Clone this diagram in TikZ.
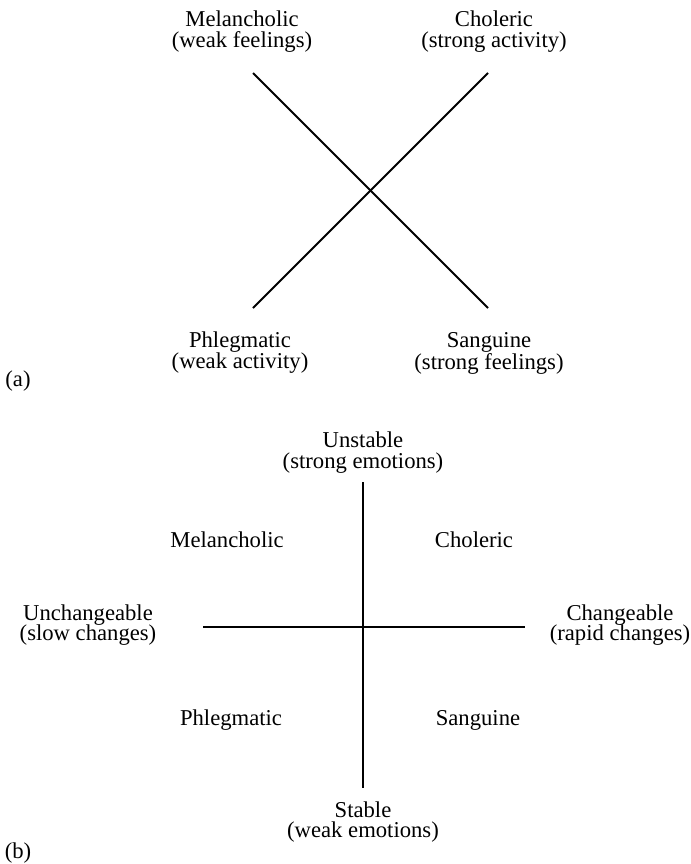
\documentclass[tikz,border=0pt]{standalone}
\usepackage{fontspec}
\setmainfont{Liberation Serif}
\begin{document}
\begin{tikzpicture}[x=0.75pt,y=-0.75pt,
  lbl/.style={font=\fontsize{17}{15.6}\selectfont, align=center, inner sep=0pt, anchor=north},
  one/.style={font=\fontsize{17}{15.6}\selectfont, inner sep=0pt, anchor=base},
  axis/.style={line width=1.4pt, line cap=butt}]
\path[use as bounding box] (0,0) rectangle (691,864);
% (a)
\node[lbl] (melA) at (242,11) {Melancholic\\(weak feelings)};
\node[lbl] (choA) at (494,11) {Choleric\\(strong activity)};
\node[lbl] (phlA) at (240,332) {Phlegmatic\\(weak activity)};
\node[lbl] (sanA) at (489,332) {Sanguine\\(strong feelings)};
\node[one] (capA) at (18,386) {(a)};
\coordinate (a1) at (253,73);
\coordinate (a2) at (488,308);
\coordinate (a3) at (488,73);
\coordinate (a4) at (253,308);
\draw[axis] (a1) -- (a2);
\draw[axis] (a3) -- (a4);
% (b)
\node[lbl] (unst) at (363,432) {Unstable\\(strong emotions)};
\node[lbl] (stab) at (363,801) {Stable\\(weak emotions)};
\node[lbl] (unch) at (88,604) {Unchangeable\\(slow changes)};
\node[lbl] (chan) at (620,604) {Changeable\\(rapid changes)};
\node[one] (melB) at (227,547) {Melancholic};
\node[one] (choB) at (474,547) {Choleric};
\node[one] (phlB) at (231,725) {Phlegmatic};
\node[one] (sanB) at (478,725) {Sanguine};
\node[one] (capB) at (18,858) {(b)};
\coordinate (vt) at (363,482);
\coordinate (vb) at (363,788);
\coordinate (hl) at (203,627);
\coordinate (hr) at (525,627);
\draw[axis] (vt) -- (vb);
\draw[axis] (hl) -- (hr);
\end{tikzpicture}
\end{document}
